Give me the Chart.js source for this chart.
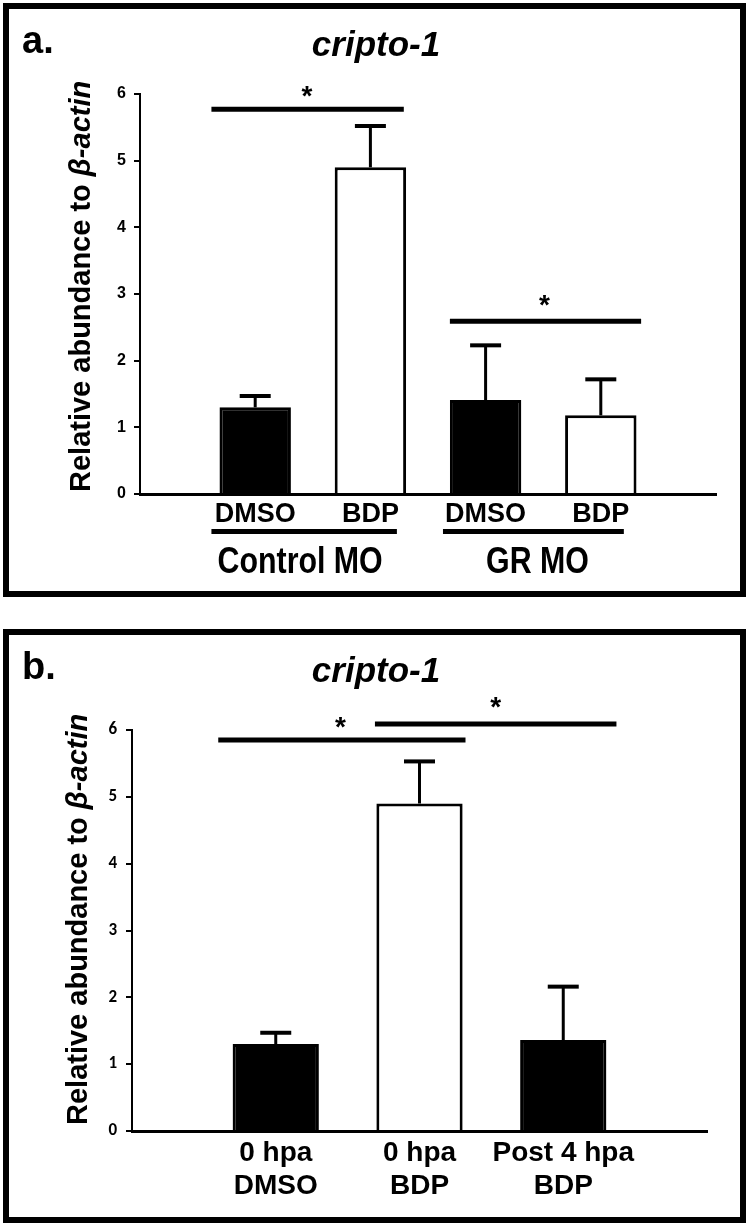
<!DOCTYPE html>
<html><head><meta charset="utf-8">
<script src="https://cdn.jsdelivr.net/npm/chart.js@4.4.0/dist/chart.umd.min.js"></script>
<style>
html,body{margin:0;padding:0;background:#fff;width:749px;height:1225px;overflow:hidden;}
.box{position:absolute;border:6px solid #000;box-sizing:border-box;}
canvas{position:absolute;left:0;}
</style></head><body>
<div class="box" style="left:3px;top:3px;width:743px;height:594px"></div>
<div class="box" style="left:3px;top:629px;width:743px;height:594px"></div>
<canvas id="ca" width="749" height="626" style="top:0px"></canvas>
<canvas id="cb" width="749" height="599" style="top:626px"></canvas>
<script>
// ---------- Panel a data ----------
const aCategories = ['DMSO', 'BDP', 'DMSO', 'BDP'];
const aMeans = [1.30, 4.90, 1.41, 1.18];
const aErrors = [0.17, 0.62, 0.82, 0.54];
const aFills = ['#000', '#fff', '#000', '#fff'];
const aGroupNames = ['Control MO', 'GR MO'];
const aGroupFrom = [0.62, 2.63];
const aGroupTo = [2.23, 4.20];
const aGroupCenter = [1.39, 3.45];
// significance brackets: from, to, level, star position, star level
const aSigFrom = [0.62, 2.69];
const aSigTo = [2.29, 4.35];
const aSigLevel = [5.77, 2.59];
const aStarX = [1.45, 3.51];
const aStarY = [6.07, 2.94];

// ---------- Panel b data ----------
const bCategories = [['0 hpa', 'DMSO'], ['0 hpa', 'BDP'], ['Post 4 hpa', 'BDP']];
const bMeans = [1.30, 4.90, 1.36];
const bErrors = [0.17, 0.63, 0.80];
const bFills = ['#000', '#fff', '#000'];
const bSigFrom = [0.60, 1.69];
const bSigTo = [2.32, 3.37];
const bSigLevel = [5.85, 6.09];
const bStarX = [1.45, 2.53];
const bStarY = [6.15, 6.45];

const yMin = 0, yMax = 6, yStep = 1;
const geneTitle = 'cripto-1';
const yTitleMain = 'Relative abundance to ';
const yTitleItalic = '\u03B2-actin';

const ARIAL = "'Liberation Sans', Arial, sans-serif";

function makeDecor(c) {
  return {
    id: 'decor_' + c.letter,
    afterDatasetsDraw(chart) {
      const ctx = chart.ctx, xs = chart.scales.x, ys = chart.scales.y;
      const meta = chart.getDatasetMeta(0);
      ctx.save();
      ctx.strokeStyle = '#000';
      ctx.lineCap = 'butt';
      // error bars (upper only)
      c.errors.forEach((e, i) => {
        const el = meta.data[i + 1];
        const px = el.x;
        const y0 = ys.getPixelForValue(c.means[i]);
        const y1 = ys.getPixelForValue(c.means[i] + e);
        ctx.lineWidth = 3;
        ctx.beginPath(); ctx.moveTo(px, y0); ctx.lineTo(px, y1); ctx.stroke();
        ctx.lineWidth = 4;
        ctx.beginPath(); ctx.moveTo(px - 15.5, y1); ctx.lineTo(px + 15.5, y1); ctx.stroke();
      });
      // significance bars
      ctx.fillStyle = '#000';
      ctx.font = 'bold 28px ' + ARIAL;
      ctx.textAlign = 'center';
      ctx.textBaseline = 'alphabetic';
      c.sigFrom.forEach((f, i) => {
        const yy = ys.getPixelForValue(c.sigLevel[i]);
        ctx.lineWidth = 5;
        ctx.beginPath(); ctx.moveTo(xs.getPixelForValue(f), yy); ctx.lineTo(xs.getPixelForValue(c.sigTo[i]), yy); ctx.stroke();
        ctx.fillText('*', xs.getPixelForValue(c.starX[i]), ys.getPixelForValue(c.starY[i]) + 16);
      });
      // group underlines and names
      if (c.groupNames) {
        const base = chart.chartArea.bottom;
        c.groupNames.forEach((g, i) => {
          ctx.lineWidth = 5;
          const yy = base + 37.5;
          ctx.beginPath(); ctx.moveTo(xs.getPixelForValue(c.groupFrom[i]), yy); ctx.lineTo(xs.getPixelForValue(c.groupTo[i]), yy); ctx.stroke();
          ctx.save();
          ctx.translate(xs.getPixelForValue(c.groupCenter[i]), base + 79);
          ctx.scale(0.82, 1);
          ctx.font = 'bold 37px ' + ARIAL;
          ctx.fillText(g, 0, 0);
          ctx.restore();
        });
      }
      ctx.restore();
    },
    afterDraw(chart) {
      const ctx = chart.ctx;
      ctx.save();
      ctx.fillStyle = '#000';
      ctx.textBaseline = 'alphabetic';
      // panel letter
      ctx.textAlign = 'left';
      ctx.font = 'bold 38px ' + ARIAL;
      ctx.fillText(c.letter, 22, 53);
      // gene title
      ctx.textAlign = 'center';
      ctx.font = 'italic bold 35px ' + ARIAL;
      ctx.fillText(geneTitle, 376, 56);
      // y axis title (rotated, mixed style)
      ctx.translate(c.yTitleX, c.yTitleBottom);
      ctx.rotate(-Math.PI / 2);
      ctx.textAlign = 'left';
      ctx.font = 'bold 29px ' + ARIAL;
      ctx.fillText(yTitleMain, 0, 0);
      const w = ctx.measureText(yTitleMain).width;
      ctx.font = 'italic bold 29px ' + ARIAL;
      ctx.fillText(yTitleItalic, w, 0);
      ctx.restore();
    }
  };
}

function makeChart(canvas, c) {
  const labels = [''].concat(c.categories, ['']);
  return new Chart(canvas, {
    type: 'bar',
    data: {
      labels: labels,
      datasets: [{
        data: [null].concat(c.means, [null]),
        backgroundColor: ['#fff'].concat(c.fills, ['#fff']),
        borderColor: '#000',
        borderWidth: 3,
        categoryPercentage: 1,
        barPercentage: c.barPct
      }]
    },
    options: {
      responsive: false,
      animation: false,
      devicePixelRatio: 1,
      layout: { padding: { left: 0, top: c.padTop, right: c.padRight, bottom: 0 } },
      plugins: { legend: { display: false }, tooltip: { enabled: false } },
      scales: {
        x: {
          type: 'category',
          offset: false,
          grid: { display: false, drawTicks: false },
          border: { display: true, color: '#000', width: 3 },
          ticks: {
            color: '#000', autoSkip: false, maxRotation: 0, minRotation: 0,
            padding: c.xPad,
            font: { family: ARIAL, weight: 'bold', size: c.xFont, lineHeight: 1.2 }
          },
          afterFit(s) { s.height = c.xHeight; }
        },
        y: {
          min: yMin, max: yMax,
          grid: { display: true, drawOnChartArea: false, drawTicks: true, tickLength: 6, color: '#000', lineWidth: 2 },
          border: { display: true, color: '#000', width: 2 },
          ticks: { stepSize: yStep, color: '#000', padding: c.yPad, font: c.yTickFont },
          afterFit(s) { s.width = c.yWidth; }
        }
      }
    },
    plugins: [makeDecor(c)]
  });
}

makeChart(document.getElementById('ca'), {
  letter: 'a.', categories: aCategories, means: aMeans, errors: aErrors, fills: aFills,
  groupNames: aGroupNames, groupFrom: aGroupFrom, groupTo: aGroupTo, groupCenter: aGroupCenter,
  sigFrom: aSigFrom, sigTo: aSigTo, sigLevel: aSigLevel, starX: aStarX, starY: aStarY,
  barPct: 0.62, padTop: 94, padRight: 33, xHeight: 132, yWidth: 140, xPad: 4, xFont: 27, yPad: 8,
  yTickFont: { family: ARIAL, weight: 'bold', size: 16 },
  yTitleX: 90, yTitleBottom: 492
});

makeChart(document.getElementById('cb'), {
  letter: 'b.', categories: bCategories, means: bMeans, errors: bErrors, fills: bFills,
  groupNames: null,
  sigFrom: bSigFrom, sigTo: bSigTo, sigLevel: bSigLevel, starX: bStarX, starY: bStarY,
  barPct: 0.60, padTop: 104, padRight: 42, xHeight: 94, yWidth: 132, xPad: 5, xFont: 28, yPad: 9,
  yTickFont: { family: "Carlito, Lato, 'Open Sans', sans-serif", weight: 'bold', size: 17 },
  yTitleX: 87, yTitleBottom: 499
});
</script>
</body></html>
